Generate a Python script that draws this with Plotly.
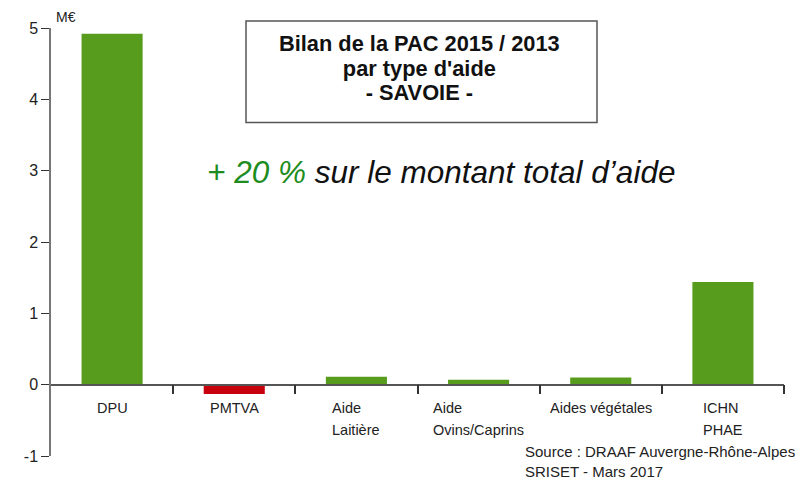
import plotly.graph_objects as go

categories = ["DPU", "PMTVA", "Aide<br>Laitière", "Aide<br>Ovins/Caprins",
              "Aides végétales", "ICHN<br>PHAE"]
values = [4.92, -0.13, 0.11, 0.07, 0.10, 1.44]
y_ticks = [-1, 0, 1, 2, 3, 4, 5]
y_tick_text = ["-1", "0", "1", "2", "3", "4", "5"]
bar_colors = ["#589c1e" if v >= 0 else "#c8000b" for v in values]

FONT = "Liberation Sans, Arial, sans-serif"
# the page body adds an 8px offset, margins compensate for it
OFF = 8

fig = go.Figure()
fig.add_trace(go.Bar(x=list(range(len(categories))), y=values,
                     marker=dict(color=bar_colors, line=dict(width=0)),
                     width=0.5, hoverinfo="y"))

# category labels: lines left-aligned inside a centred block, wide line spacing
for i, lab in enumerate(categories):
    fig.add_annotation(x=i, y=0, xref="x", yref="y",
                       text=f"<span style='font-size:14.5px'>{lab}</span>",
                       showarrow=False, xanchor="center", yanchor="top",
                       yshift=-13, align="left",
                       font=dict(family=FONT, size=17, color="#222"))

fig.update_layout(
    width=811, height=495, plot_bgcolor="white", paper_bgcolor="white",
    margin=dict(l=51 - OFF, r=27 + OFF, t=21 - OFF, b=39 + OFF), showlegend=False,
    font=dict(family=FONT, color="#222"),
    xaxis=dict(range=[-0.5, 5.5], anchor="free", position=1 / 6,
               tickmode="array", tickvals=[0.5, 1.5, 2.5, 3.5, 4.5, 5.5],
               showticklabels=False, ticks="outside", ticklen=9, tickwidth=1.5,
               tickcolor="#333", showline=True, linecolor="#555", linewidth=1.5,
               showgrid=False, zeroline=False),
    yaxis=dict(range=[-1, 5], tickmode="array", tickvals=y_ticks,
               ticktext=y_tick_text, ticks="outside", ticklen=8,
               tickcolor="#333", showline=True, linecolor="#777",
               linewidth=1.5, showgrid=False, zeroline=False,
               tickfont=dict(family=FONT, size=16, color="#222")),
)

fig.add_annotation(x=0, y=5, xref="paper", yref="y", text="M€", showarrow=False,
                   xanchor="left", yanchor="bottom", xshift=3, yshift=1,
                   font=dict(family=FONT, size=14, color="#222"))

W, H = 811 - 51 - 27, 495 - 21 - 39


def px(x):
    return (x - 51) / W


def py(y):
    return (456 - y) / H


# title box
fig.add_shape(type="rect", xref="paper", yref="paper",
              x0=px(246), x1=px(597), y0=py(117), y1=py(14),
              line=dict(color="#555", width=1.5), fillcolor="white")
fig.add_annotation(x=px(419), y=py(62), xref="paper", yref="paper",
                   text="<span style='font-size:21.8px'><b>Bilan de la PAC 2015 / 2013"
                        "<br>par type d'aide<br>- SAVOIE -</b></span>",
                   showarrow=False, align="center", xanchor="center", yanchor="middle",
                   font=dict(family=FONT, size=19, color="#111"))

fig.add_annotation(x=px(441), y=py(167), xref="paper", yref="paper",
                   text="<i><span style='color:#1e8c1e'>+ 20 %</span> sur le montant total d’aide</i>",
                   showarrow=False, xanchor="center", yanchor="middle",
                   font=dict(family=FONT, size=31.5, color="#111"))

fig.add_annotation(x=px(523), y=py(451), xref="paper", yref="paper",
                   text="Source : DRAAF Auvergne-Rhône-Alpes",
                   showarrow=False, xanchor="left", yanchor="middle", align="left",
                   font=dict(family=FONT, size=15, color="#222"))
fig.add_annotation(x=px(523), y=py(472), xref="paper", yref="paper",
                   text="SRISET - Mars 2017",
                   showarrow=False, xanchor="left", yanchor="middle", align="left",
                   font=dict(family=FONT, size=15, color="#222"))

fig.write_html("out.html")
